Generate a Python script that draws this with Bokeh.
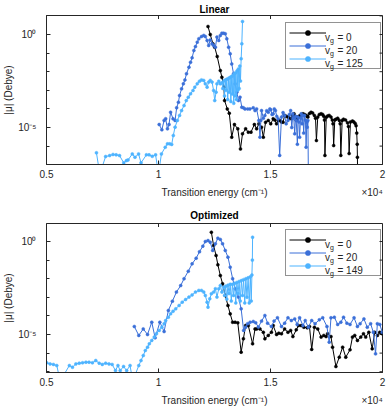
import numpy as np
from bokeh.plotting import figure
from bokeh.models import (Range1d, FixedTicker, Legend, LegendItem, LinearAxis, Title,
                          CustomJSTickFormatter)
from bokeh.core.properties import value
from bokeh.layouts import column
from bokeh.embed import file_html
from bokeh.resources import INLINE

# ---------------- data: (transition energy / 1e4 cm^-1, log10 |mu| in Debye) ----------------
lin_v0 = [(1.221, 0.43), (1.231, 0.0), (1.243, -0.5), (1.251, -0.68), (1.262, -1.18), (1.276, -1.94),
          (1.283, -2.3), (1.292, -2.83), (1.295, -3.55), (1.307, -4.0), (1.316, -4.23), (1.327, -5.52),
          (1.339, -4.84), (1.354, -5.07), (1.366, -6.15), (1.375, -5.34), (1.389, -5.07), (1.401, -5.25),
          (1.413, -5.25), (1.428, -4.84), (1.438, -5.07), (1.448, -4.8), (1.46, -4.98), (1.468, -5.52),
          (1.478, -4.72), (1.49, -4.62), (1.501, -4.8), (1.512, -4.53), (1.519, -4.6), (1.527, -4.8),
          (1.534, -4.62), (1.541, -4.62), (1.549, -4.7), (1.556, -4.72), (1.563, -4.35), (1.57, -4.4),
          (1.578, -4.44), (1.585, -4.5), (1.593, -4.53), (1.599, -4.35), (1.605, -4.26), (1.61, -4.4),
          (1.615, -4.62), (1.619, -4.5), (1.623, -4.44), (1.629, -4.38), (1.634, -4.35), (1.64, -4.3),
          (1.645, -4.26), (1.652, -4.3), (1.659, -4.35), (1.663, -4.4), (1.667, -4.44), (1.674, -4.25),
          (1.681, -4.18), (1.688, -4.22), (1.696, -4.35), (1.701, -4.5), (1.705, -5.7), (1.711, -4.44),
          (1.718, -4.3), (1.726, -4.26), (1.733, -4.3), (1.738, -4.4), (1.741, -4.6), (1.743, -6.5),
          (1.749, -4.45), (1.755, -4.38), (1.762, -4.35), (1.77, -4.44), (1.776, -4.6), (1.779, -4.8),
          (1.782, -5.97), (1.787, -4.6), (1.792, -4.55), (1.8, -4.5), (1.807, -4.62), (1.811, -4.8),
          (1.814, -6.5), (1.82, -4.62), (1.826, -4.55), (1.835, -4.6), (1.844, -4.75), (1.848, -4.95),
          (1.851, -6.4), (1.857, -4.7), (1.866, -4.65), (1.872, -4.7), (1.878, -4.78), (1.882, -4.9),
          (1.885, -5.3), (1.887, -5.9), (1.888, -6.6), (1.889, -7.5)]

lin_v20 = [(1.003, -4.84), (1.015, -5.12), (1.025, -4.62), (1.032, -4.53), (1.04, -5.07), (1.047, -4.84),
           (1.054, -4.18), (1.065, -4.53), (1.074, -4.62), (1.081, -3.94), (1.089, -3.64), (1.094, -3.28),
           (1.103, -2.92), (1.111, -2.65), (1.118, -2.44), (1.125, -2.11), (1.136, -1.76), (1.143, -1.49),
           (1.15, -1.25), (1.158, -0.86), (1.165, -0.65), (1.173, -0.41), (1.18, -0.23), (1.192, -0.11),
           (1.202, -0.05), (1.209, -0.11), (1.217, -0.32), (1.224, -0.59), (1.231, -0.29), (1.239, -0.5),
           (1.246, -0.59), (1.254, -0.68), (1.261, -0.14), (1.269, -0.32), (1.276, -0.05), (1.283, 0.07),
           (1.291, 0.07), (1.298, 0.04), (1.305, -0.23), (1.313, -0.68), (1.32, -1.04), (1.327, -1.58),
           (1.335, -2.11), (1.342, -2.65), (1.35, -3.1), (1.357, -3.55), (1.364, -3.37), (1.372, -3.91),
           (1.379, -3.94), (1.386, -4.0), (1.398, -4.0), (1.408, -4.0), (1.423, -3.94), (1.431, -4.09),
           (1.438, -4.0), (1.448, -4.62), (1.453, -5.52), (1.457, -4.62), (1.46, -4.09), (1.468, -4.5),
           (1.475, -4.35), (1.483, -4.1), (1.49, -4.18), (1.497, -4.0), (1.501, -4.05), (1.507, -4.3),
           (1.512, -4.26), (1.517, -4.0), (1.522, -4.09), (1.528, -4.4), (1.534, -4.53), (1.541, -6.5),
           (1.549, -4.44), (1.556, -4.2), (1.563, -4.35), (1.57, -4.8), (1.578, -4.62), (1.584, -4.3),
           (1.59, -4.09), (1.595, -5.0), (1.6, -4.26), (1.604, -4.5), (1.608, -5.34), (1.612, -4.4),
           (1.615, -4.62), (1.62, -5.9), (1.623, -4.44), (1.627, -4.7), (1.63, -5.52), (1.634, -4.5),
           (1.637, -4.26), (1.641, -4.8), (1.645, -4.35), (1.648, -5.3), (1.652, -4.35), (1.656, -4.6),
           (1.659, -6.06), (1.662, -4.7), (1.664, -4.98), (1.667, -4.62), (1.669, -7.5)]

lin_v125 = [(0.723, -6.36), (0.738, -7.5), (0.764, -6.56), (0.782, -6.51), (0.797, -6.45), (0.811, -6.47),
            (0.826, -6.51), (0.845, -6.9), (0.857, -6.78), (0.864, -6.75), (0.883, -6.42), (0.895, -6.6),
            (0.911, -6.42), (0.922, -6.9), (0.946, -6.47), (0.958, -6.47), (0.972, -6.55), (0.987, -6.47),
            (1.0, -7.5), (1.013, -6.42), (1.03, -6.06), (1.04, -5.88), (1.05, -5.88), (1.059, -5.91),
            (1.066, -5.43), (1.074, -4.98), (1.084, -4.62), (1.094, -4.35), (1.103, -4.09), (1.114, -3.82),
            (1.124, -3.55), (1.133, -3.37), (1.143, -3.19), (1.154, -3.01), (1.162, -2.83), (1.173, -2.65),
            (1.183, -2.51), (1.192, -2.44), (1.202, -2.47), (1.209, -2.65), (1.217, -2.83), (1.224, -2.56),
            (1.231, -2.47), (1.239, -2.56), (1.246, -3.01), (1.251, -3.55), (1.257, -3.1), (1.261, -2.65),
            (1.269, -2.51), (1.276, -2.65), (1.283, -2.6), (1.287, -2.9), (1.291, -2.5), (1.295, -3.3),
            (1.298, -2.45), (1.302, -3.0), (1.305, -2.4), (1.309, -3.5), (1.313, -2.35), (1.316, -3.1),
            (1.32, -2.3), (1.323, -3.6), (1.327, -2.25), (1.33, -3.2), (1.333, -2.2), (1.336, -3.7),
            (1.339, -2.1), (1.342, -3.3), (1.345, -2.05), (1.348, -3.5), (1.351, -1.95), (1.354, -3.0),
            (1.357, -1.85), (1.36, -2.9), (1.363, -1.7), (1.366, -2.5), (1.369, -1.3), (1.372, -0.5),
            (1.375, 0.7)]

opt_v0 = [(1.236, 0.5), (1.246, -0.22), (1.257, -0.75), (1.265, -1.25), (1.276, -1.83), (1.286, -2.27),
          (1.298, -2.9), (1.31, -3.44), (1.32, -3.89), (1.331, -4.34), (1.342, -4.34), (1.354, -4.37),
          (1.369, -5.95), (1.379, -5.23), (1.389, -4.52), (1.401, -4.52), (1.42, -5.5), (1.431, -4.7),
          (1.438, -4.7), (1.453, -4.7), (1.468, -4.88), (1.475, -5.23), (1.49, -5.05), (1.504, -4.88),
          (1.512, -4.52), (1.527, -5.0), (1.537, -4.93), (1.549, -4.96), (1.563, -4.7), (1.578, -4.88),
          (1.59, -4.78), (1.6, -5.11), (1.615, -4.75), (1.625, -4.52), (1.637, -4.52), (1.649, -4.61),
          (1.664, -4.64), (1.674, -4.57), (1.684, -5.8), (1.696, -4.61), (1.711, -4.7), (1.726, -5.14),
          (1.738, -5.05), (1.748, -5.11), (1.755, -4.96), (1.77, -5.11), (1.777, -5.68), (1.792, -6.72),
          (1.807, -6.22), (1.822, -5.68), (1.836, -6.22), (1.855, -5.82), (1.866, -5.14), (1.876, -5.05),
          (1.888, -5.32), (1.903, -5.14), (1.915, -4.96), (1.925, -5.14), (1.939, -4.88), (1.954, -5.77),
          (1.965, -4.88), (1.977, -5.05), (1.988, -4.88), (1.999, -4.96)]

opt_v20 = [(0.892, -4.57), (0.912, -5.05), (0.932, -4.7), (0.951, -5.0), (0.97, -4.34), (0.985, -5.18),
           (1.006, -4.34), (1.025, -4.84), (1.044, -3.71), (1.062, -3.21), (1.08, -2.72), (1.099, -2.37),
           (1.114, -2.0), (1.133, -1.6), (1.15, -1.2), (1.168, -0.9), (1.183, -0.55), (1.198, -0.25),
           (1.209, 0.0), (1.221, 0.05), (1.231, -0.04), (1.242, -0.48), (1.254, -0.12), (1.265, 0.18),
           (1.276, 0.11), (1.286, -0.12), (1.298, -0.48), (1.31, -0.84), (1.32, -1.38), (1.331, -2.0),
           (1.342, -2.54), (1.357, -2.99), (1.369, -3.62), (1.38, -4.78), (1.389, -4.61), (1.398, -4.42),
           (1.409, -4.34), (1.423, -4.3), (1.434, -4.37), (1.446, -4.6), (1.46, -4.28), (1.475, -3.98),
           (1.487, -4.39), (1.504, -4.57), (1.516, -4.28), (1.531, -4.1), (1.549, -4.57), (1.563, -4.39),
           (1.578, -4.1), (1.593, -4.25), (1.608, -4.16), (1.619, -4.46), (1.63, -4.1), (1.645, -4.52),
           (1.655, -4.25), (1.669, -4.61), (1.684, -4.25), (1.699, -4.42), (1.718, -4.21), (1.733, -4.1),
           (1.752, -4.57), (1.762, -5.41), (1.77, -4.1), (1.785, -4.07), (1.8, -4.46), (1.814, -4.34),
           (1.826, -4.07), (1.841, -4.39), (1.855, -4.46), (1.873, -4.1), (1.888, -4.57), (1.9, -4.42),
           (1.917, -4.16), (1.932, -4.61), (1.947, -4.42), (1.959, -4.88), (1.969, -6.04), (1.977, -4.42),
           (1.988, -4.46), (1.999, -4.88)]

opt_v149 = [(0.501, -6.52), (0.516, -6.58), (0.531, -6.61), (0.546, -6.67), (0.561, -7.5), (0.602, -6.67),
            (0.616, -6.76), (0.631, -6.58), (0.646, -6.54), (0.661, -6.52), (0.676, -6.49), (0.69, -6.49),
            (0.705, -6.52), (0.72, -6.4), (0.735, -6.54), (0.749, -6.61), (0.764, -6.54), (0.779, -6.58),
            (0.793, -6.61), (0.808, -6.94), (0.819, -6.67), (0.829, -6.94), (0.844, -6.72), (0.858, -6.94),
            (0.873, -6.67), (0.885, -7.5), (0.912, -6.67), (0.922, -6.4), (0.932, -6.13), (0.941, -5.86),
            (0.951, -5.68), (0.959, -5.5), (0.97, -5.32), (0.981, -5.14), (0.991, -4.96), (1.003, -4.78),
            (1.015, -4.61), (1.025, -4.42), (1.032, -4.25), (1.044, -4.07), (1.054, -3.89), (1.065, -3.75),
            (1.077, -3.62), (1.092, -3.44), (1.106, -3.26), (1.121, -3.12), (1.136, -2.99), (1.15, -2.87),
            (1.165, -2.72), (1.18, -2.63), (1.192, -2.63), (1.202, -2.72), (1.209, -2.9), (1.217, -3.26),
            (1.221, -3.53), (1.229, -3.08), (1.236, -2.81), (1.246, -2.72), (1.254, -2.54), (1.261, -2.99),
            (1.269, -2.54), (1.276, -2.37), (1.283, -2.72), (1.291, -2.46), (1.295, -2.9), (1.3, -2.4),
            (1.305, -3.1), (1.31, -2.35), (1.315, -2.8), (1.32, -2.3), (1.325, -3.2), (1.33, -2.3),
            (1.335, -2.9), (1.34, -2.25), (1.345, -3.3), (1.35, -2.2), (1.355, -2.8), (1.36, -2.15),
            (1.365, -3.2), (1.37, -2.1), (1.375, -2.9), (1.38, -2.05), (1.385, -3.3), (1.39, -2.0),
            (1.395, -3.0), (1.4, -1.95), (1.405, -3.3), (1.41, -1.9), (1.414, -3.2), (1.417, -1.8),
            (1.419, -1.0), (1.42, 0.23)]

lin_labels = ["0", "20", "125"]
opt_labels = ["0", "20", "149"]
x_ticks = [0.5, 1.0, 1.5, 2.0]
y_major_exp = [-5, 0]
y_minor_exp = [-7, -6, -5, -4, -3, -2, -1, 0, 1]
x_label = "Transition energy (cm\u207b\u00b9)"
x_scale_label = "\u00d710\u2074"
y_label = "|\u03bc| (Debye)"

# ---------------- style ----------------
FONT = "Liberation Sans"
AX = "#262626"
COLORS = ["#000000", "#3a6fd8", "#4db3ff"]
W = 386
BL, BR = 43, 4
FRAME_W = W - BL - BR
X0, X1 = 0.5, 2.0
LEG_W, LEG_H, LEG_PAD, GLYPH_W, ROW_H = 94, 45, 3, 37, 13
LEG_LEFT = 239

SUP_JS = """
const e = Math.round(Math.log10(tick));
const m = {'-':'\u207b','0':'\u2070','1':'\u00b9','2':'\u00b2','3':'\u00b3','4':'\u2074',
           '5':'\u2075','6':'\u2076','7':'\u2077','8':'\u2078','9':'\u2079'};
return '10' + String(e).split('').map(c => m[c]).join('');
"""


def style_axis(ax):
    ax.axis_line_color = AX
    ax.axis_line_width = 1
    ax.major_tick_line_color = AX
    ax.minor_tick_line_color = AX
    ax.major_tick_in = 4
    ax.major_tick_out = 0
    ax.minor_tick_out = 0
    ax.major_label_text_font = FONT
    ax.major_label_text_color = AX
    ax.major_label_text_font_size = "10px"
    ax.axis_label_text_font = FONT
    ax.axis_label_text_color = AX
    ax.axis_label_text_font_style = "normal"
    ax.axis_label_text_font_size = "10px"


def build(title, series, labels, y_lo, y_hi, height, b_top, b_bottom, title_standoff, leg_y):
    frame_h = height - b_top - b_bottom
    p = figure(width=W, height=height, x_range=Range1d(X0, X1),
               y_range=Range1d(10 ** y_lo, 10 ** y_hi), y_axis_type="log",
               output_backend="svg", toolbar_location=None,
               min_border_left=BL, min_border_right=BR, min_border_top=b_top,
               min_border_bottom=b_bottom)
    p.title = Title(text=title, align="center", text_font=FONT, text_font_size="10px",
                    text_font_style="bold", text_color="#000000", standoff=title_standoff,
                    offset=0)
    p.grid.visible = False
    p.outline_line_color = AX
    p.outline_line_width = 1
    p.background_fill_color = "white"
    p.border_fill_color = "white"

    # frame pixel -> data helpers (for placing legend text inside the frame)
    def fx(px):
        return X0 + px / FRAME_W * (X1 - X0)

    def fy(py_from_top):
        return 10 ** (y_hi - py_from_top / frame_h * (y_hi - y_lo))

    yt = FixedTicker(ticks=[10.0 ** e for e in y_major_exp],
                     minor_ticks=[10.0 ** e for e in y_minor_exp])
    xt = FixedTicker(ticks=x_ticks, minor_ticks=[])

    xa = p.xaxis[0]
    xa.ticker = xt
    xa.formatter = CustomJSTickFormatter(code="return String(tick);")
    style_axis(xa)
    xa.minor_tick_in = 0
    xa.major_label_standoff = 5

    # second row under the x tick labels: axis title centred, scale factor at the right end
    lab_w = 21.0
    x_lab_pos = [(X0 + X1) / 2, X1 - lab_w / 2 * (X1 - X0) / FRAME_W]
    xb = LinearAxis(ticker=FixedTicker(ticks=x_lab_pos, minor_ticks=[]),
                    formatter=CustomJSTickFormatter(
                        args=dict(a=x_label, b=x_scale_label),
                        code="return tick < 1.9 ? a : b;"))
    style_axis(xb)
    xb.axis_line_color = None
    xb.major_tick_line_color = None
    xb.major_tick_in = 0
    xb.minor_tick_in = 0
    xb.major_label_standoff = 6
    p.add_layout(xb, "below")

    ya = p.yaxis[0]
    ya.ticker = yt
    ya.formatter = CustomJSTickFormatter(code=SUP_JS)
    style_axis(ya)
    ya.minor_tick_in = 3
    ya.major_label_standoff = 10
    ya.axis_label = y_label
    ya.axis_label_standoff = 1

    # mirrored tick marks on the right and top edges of the box
    dx = 3.0 * (X1 - X0) / FRAME_W
    dlog = 3.5 * (y_hi - y_lo) / frame_h
    rt = [10.0 ** e for e in y_minor_exp]
    p.segment(x0=[X1] * len(rt), x1=[X1 - dx] * len(rt), y0=rt, y1=rt, line_color=AX, line_width=1)
    p.segment(x0=x_ticks, x1=x_ticks, y0=[10 ** y_hi] * len(x_ticks),
              y1=[10 ** (y_hi - dlog)] * len(x_ticks), line_color=AX, line_width=1)

    items = []
    for (data, col) in zip(series, COLORS):
        xs = [d[0] for d in data]
        ys = list(10.0 ** np.array([d[1] for d in data]))
        ln = p.line(xs, ys, line_color=col, line_width=1)
        sc = p.scatter(xs, ys, size=3, fill_color=col, line_color=col, line_width=0.5)
        items.append(LegendItem(label=value(" "), renderers=[ln, sc]))

    leg = Legend(items=items, location=(LEG_LEFT, leg_y), orientation="vertical",
                 padding=LEG_PAD, spacing=0, glyph_width=GLYPH_W, glyph_height=ROW_H,
                 label_height=ROW_H, label_width=LEG_W - 2 * LEG_PAD - GLYPH_W - 2,
                 label_standoff=2, border_line_color=AX, border_line_width=1,
                 background_fill_alpha=0.0, label_text_font_size="9px", margin=0)
    p.add_layout(leg)

    # legend text  v_g = N  (drawn as text glyphs inside the legend box)
    leg_top = frame_h - (leg_y + LEG_H)
    tx = LEG_LEFT + LEG_PAD + GLYPH_W + 2
    centers = [leg_top + LEG_PAD + ROW_H / 2 + ROW_H * i for i in range(len(labels))]
    p.text(x=[fx(tx)] * len(labels), y=[fy(c + 3) for c in centers], text=["v"] * len(labels),
           text_font=value(FONT), text_font_size=value("10px"), text_color=AX,
           text_align="left", text_baseline="alphabetic")
    p.text(x=[fx(tx + 5.1)] * len(labels), y=[fy(c + 6.5) for c in centers],
           text=["g"] * len(labels), text_font=value(FONT), text_font_size=value("7px"),
           text_color=AX, text_align="left", text_baseline="alphabetic")
    p.text(x=[fx(tx + 12.6)] * len(labels), y=[fy(c + 3) for c in centers],
           text=["= " + s for s in labels], text_font=value(FONT), text_font_size=value("10px"),
           text_color=AX, text_align="left", text_baseline="alphabetic")
    return p


p1 = build("Linear", [lin_v0, lin_v20, lin_v125], lin_labels,
           -6.989, 1.0215, 203, 15, 39, 2, 95)
p2 = build("Optimized", [opt_v0, opt_v20, opt_v149], opt_labels,
           -7.043, 0.968, 206, 20, 37, 5, 96)

layout = column(p1, p2, spacing=0)
open("out.html", "w", encoding="utf-8").write(file_html(layout, INLINE))
